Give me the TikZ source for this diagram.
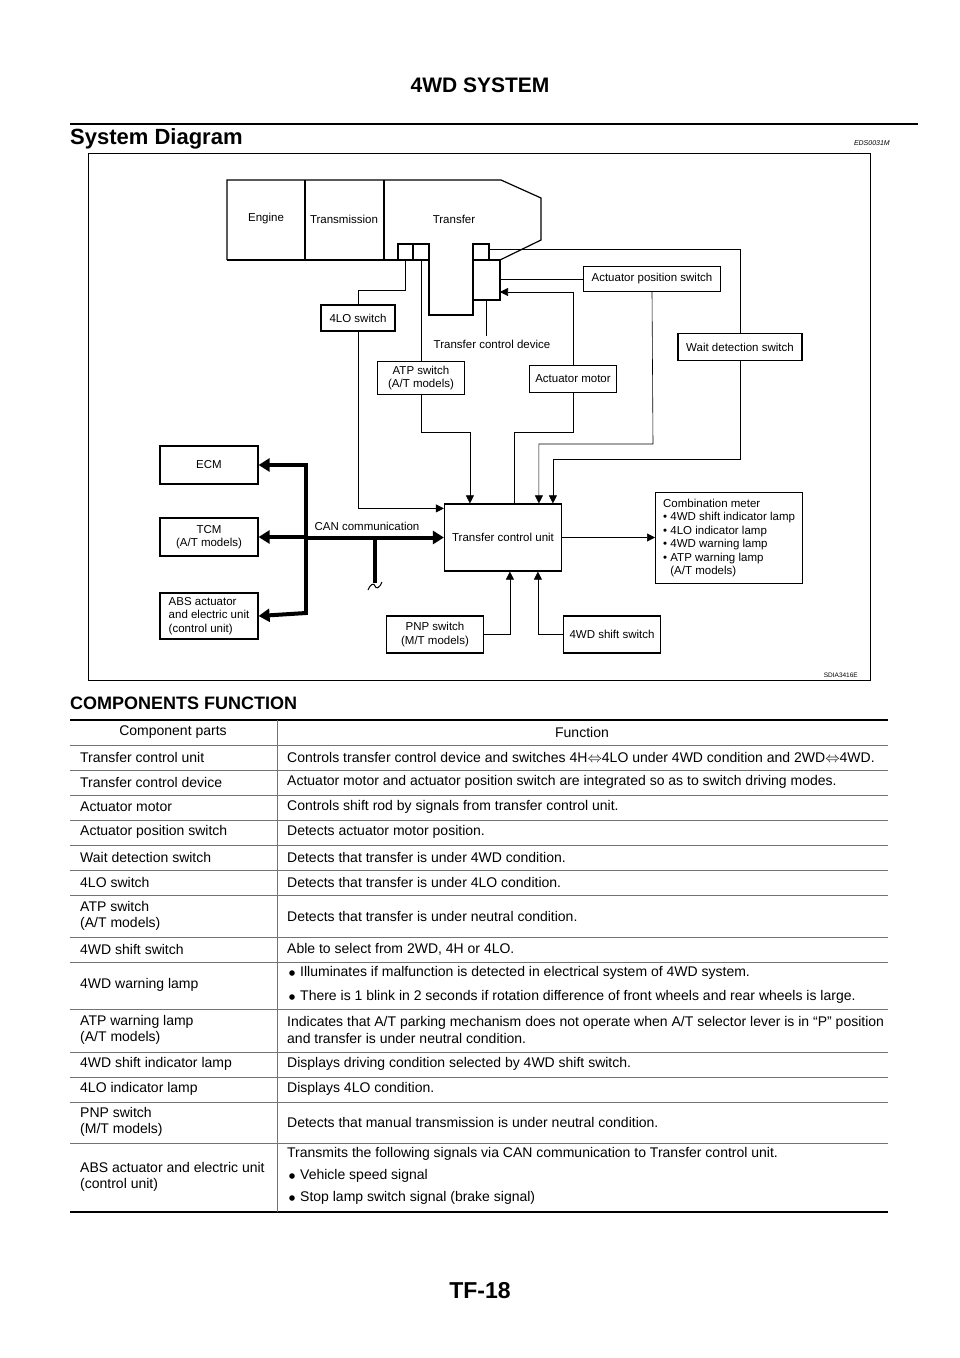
\documentclass[tikz,border=0pt]{standalone}
\usepackage{fontspec}
\setmainfont{Liberation Sans}
\usetikzlibrary{positioning, arrows.meta, calc}

\tikzset{
  blk/.style={draw, line width=1.2pt, inner sep=2pt, font=\fontsize{11.5}{13.5}\selectfont, align=center},
  wire/.style={line width=0.6pt},
  arr/.style={wire, -{Triangle[length=8pt,width=8pt]}},
  bus/.style={line width=4pt},
  busarr/.style={line width=4pt, -{Triangle[length=11pt,width=13pt]}},
  cell/.style={anchor=west, font=\fontsize{14}{16.5}\selectfont, align=left, inner sep=0pt},
  rule/.style={draw=black!55, line width=0.6pt}
}
\newcommand{\dotb}[2]{\fill (#1,#2) circle (2.8);}

\begin{document}
\begin{tikzpicture}[x=1pt, y=-1pt]
\useasboundingbox (0,0) rectangle (960,1358);

% Page head
\node[font=\fontsize{21}{25}\selectfont\bfseries] (title) at (480,85) {4WD SYSTEM};
\draw[line width=2pt] (70,124) -- (918,124);
\node[anchor=west, font=\fontsize{22}{26}\selectfont\bfseries, inner sep=0pt] (sdhead) at (70,139) {System Diagram};
\node[anchor=east, font=\fontsize{7}{8}\selectfont\itshape, inner sep=0pt] (code) at (890,143) {EDS0031M};
\draw[line width=1pt] (88,153) rectangle (870,680);
\node[anchor=east, font=\fontsize{6.5}{7}\selectfont, inner sep=0pt] (sdia) at (858,675) {SDIA3416E};

% Power train
\draw[line width=1.2pt] (227,260) -- (227,180) -- (501,180) -- (541,198) -- (541,240) -- (500,260) -- (489,260);
\draw[line width=1.2pt] (227,260) -- (398,260);
\draw[line width=1.2pt] (305,180) -- (305,260) (384,180) -- (384,260);
\draw[line width=1.2pt] (398,244) rectangle (413,260) (413,244) rectangle (429,260);
\draw[line width=1.2pt] (429,260) -- (429,315) -- (473,315) -- (473,260);
\draw[line width=1.2pt] (473,244) rectangle (489,260) (473,260) rectangle (500,300);
\node[font=\fontsize{11.5}{13}\selectfont] (engine) at (266,219) {Engine};
\node[font=\fontsize{11.5}{13}\selectfont] (trans) at (344,219) {Transmission};
\node[font=\fontsize{11.5}{13}\selectfont] (transfer) at (454,219) {Transfer};
\node[font=\fontsize{11.5}{13}\selectfont] (tcd) at (492,344) {Transfer control device};
\draw[wire] (486,300) -- (tcd.north -| 486,0);

% Parts
\node[blk, minimum width=74pt, minimum height=26pt] (lo) at (358,318) {4LO switch};
\node[blk, minimum width=87pt, minimum height=33pt] (atp) at (421,378) {ATP switch\\(A/T models)};
\node[blk, line width=0.6pt, minimum width=87pt, minimum height=27pt] (mot) at (573,379) {Actuator motor};
\node[blk, minimum width=137pt, minimum height=25pt] (aps) at (652,279) {Actuator position switch};
\node[blk, minimum width=124pt, minimum height=27pt] (wds) at (740,347) {Wait detection switch};
\node[blk, minimum width=98pt, minimum height=38pt] (ecm) at (209,465) {ECM};
\node[blk, minimum width=98pt, minimum height=38pt] (tcm) at (209,537) {TCM\\(A/T models)};
\node[blk, minimum width=98pt, minimum height=46pt, align=left, inner sep=1pt] (abs) at (209,616) {ABS actuator\\and electric unit\\(control unit)};
\node[blk, minimum width=117pt, minimum height=67pt] (tcu) at (503,537.5) {Transfer control unit};
\node[blk, minimum width=147pt, minimum height=91pt, anchor=north west, align=left, inner sep=2pt] (meter) at (655,492)
  {Combination meter\\ \textbullet\ 4WD shift indicator lamp\\ \textbullet\ 4LO indicator lamp\\ \textbullet\ 4WD warning lamp\\ \textbullet\ ATP warning lamp\\ \phantom{\textbullet\ }(A/T models)};
\node[blk, minimum width=97pt, minimum height=37pt] (pnp) at (435,634.5) {PNP switch\\(M/T models)};
\node[blk, minimum width=97pt, minimum height=37pt] (sws) at (612,634.5) {4WD shift switch};

% Wires
\draw[wire] (405,260) -- (405,290) -| (lo.north);
\draw[arr] (lo.south) |- ([yshift=-5]tcu.north west);
\draw[wire] (421,260) -- (atp.north);
\draw[arr] (atp.south) -- (421,432) -| ([xshift=26]tcu.north west);
\draw[arr] (mot.north) |- (500,292);
\draw[wire] (mot.south) -- (573,432) -| ([xshift=70]tcu.north west);
\draw[wire] (500,279) -- (aps.west);
\draw[arr] (aps.south) -- (653,444) -| ([xshift=95]tcu.north west);
\draw[wire] (489,249) -| (wds.north);
\draw[arr] (wds.south) -- (740,459) -| ([xshift=109]tcu.north west);
\draw[arr] (tcu.east) -- (meter.west |- tcu.east);
\draw[arr] (pnp.east) -| ([xshift=66]tcu.south west);
\draw[arr] (sws.west) -| ([xshift=94]tcu.south west);

% CAN bus
\draw[bus] (306,463) -- (306,615);
\draw[busarr] (306,465) -- (ecm.east);
\draw[busarr] (306,537) -- (tcm.east);
\draw[busarr] (306,613) -- (abs.east);
\draw[busarr] (304,537.5) -- (tcu.west);
\draw[bus] (375,537) -- (375,583);
\draw[line width=1pt] (368,590) .. controls (371,583) and (374,583) .. (375,586) .. controls (376,589) and (379,589) .. (382,582);
\node[font=\fontsize{11.5}{13}\selectfont] (can) at (367,526) {CAN communication};

% Components table
\node[anchor=west, font=\fontsize{18}{21}\selectfont\bfseries, inner sep=0pt] (cfhead) at (70,703) {COMPONENTS FUNCTION};
\draw[line width=2pt] (70,720) -- (888,720);
\foreach \y in {745,770,795,820,845,870,895,937,962,1009,1052,1077,1102,1143}
  \draw[rule] (70,\y) -- (888,\y);
\draw[line width=2pt] (70,1212) -- (888,1212);
\draw[rule] (277,720) -- (277,1212);

\node[cell, anchor=center] (hpart) at (173,732) {Component parts};
\node[cell, anchor=center] (hfunc) at (582,732) {Function};
\node[cell] (c1) at (80,757) {Transfer control unit};
\node[cell] (f1) at (287,757) {Controls transfer control device and switches 4H$\Leftrightarrow$4LO under 4WD condition and 2WD$\Leftrightarrow$4WD.};
\node[cell] (c2) at (80,782) {Transfer control device};
\node[cell] (f2) at (287,782) {Actuator motor and actuator position switch are integrated so as to switch driving modes.};
\node[cell] (c3) at (80,807) {Actuator motor};
\node[cell] (f3) at (287,807) {Controls shift rod by signals from transfer control unit.};
\node[cell] (c4) at (80,832) {Actuator position switch};
\node[cell] (f4) at (287,832) {Detects actuator motor position.};
\node[cell] (c5) at (80,857) {Wait detection switch};
\node[cell] (f5) at (287,857) {Detects that transfer is under 4WD condition.};
\node[cell] (c6) at (80,882) {4LO switch};
\node[cell] (f6) at (287,882) {Detects that transfer is under 4LO condition.};
\node[cell] (c7) at (80,916) {ATP switch\\(A/T models)};
\node[cell] (f7) at (287,916) {Detects that transfer is under neutral condition.};
\node[cell] (c8) at (80,949) {4WD shift switch};
\node[cell] (f8) at (287,949) {Able to select from 2WD, 4H or 4LO.};
\node[cell] (c9) at (80,985) {4WD warning lamp};
\dotb{292}{973}
\node[cell] (f9a) at (300,973) {Illuminates if malfunction is detected in electrical system of 4WD system.};
\dotb{292}{997}
\node[cell] (f9b) at (300,997) {There is 1 blink in 2 seconds if rotation difference of front wheels and rear wheels is large.};
\node[cell] (c10) at (80,1030) {ATP warning lamp\\(A/T models)};
\node[cell] (f10) at (287,1030) {Indicates that A/T parking mechanism does not operate when A/T selector lever is in “P” position\\and transfer is under neutral condition.};
\node[cell] (c11) at (80,1064) {4WD shift indicator lamp};
\node[cell] (f11) at (287,1064) {Displays driving condition selected by 4WD shift switch.};
\node[cell] (c12) at (80,1089) {4LO indicator lamp};
\node[cell] (f12) at (287,1089) {Displays 4LO condition.};
\node[cell] (c13) at (80,1122) {PNP switch\\(M/T models)};
\node[cell] (f13) at (287,1122) {Detects that manual transmission is under neutral condition.};
\node[cell] (c14) at (80,1177) {ABS actuator and electric unit\\(control unit)};
\node[cell] (f14) at (287,1154) {Transmits the following signals via CAN communication to Transfer control unit.};
\dotb{292}{1176}
\node[cell] (f14a) at (300,1176) {Vehicle speed signal};
\dotb{292}{1198}
\node[cell] (f14b) at (300,1198) {Stop lamp switch signal (brake signal)};

% Page foot
\node[font=\fontsize{23}{26}\selectfont\bfseries] (pageno) at (480,1291) {TF-18};
\end{tikzpicture}
\end{document}
